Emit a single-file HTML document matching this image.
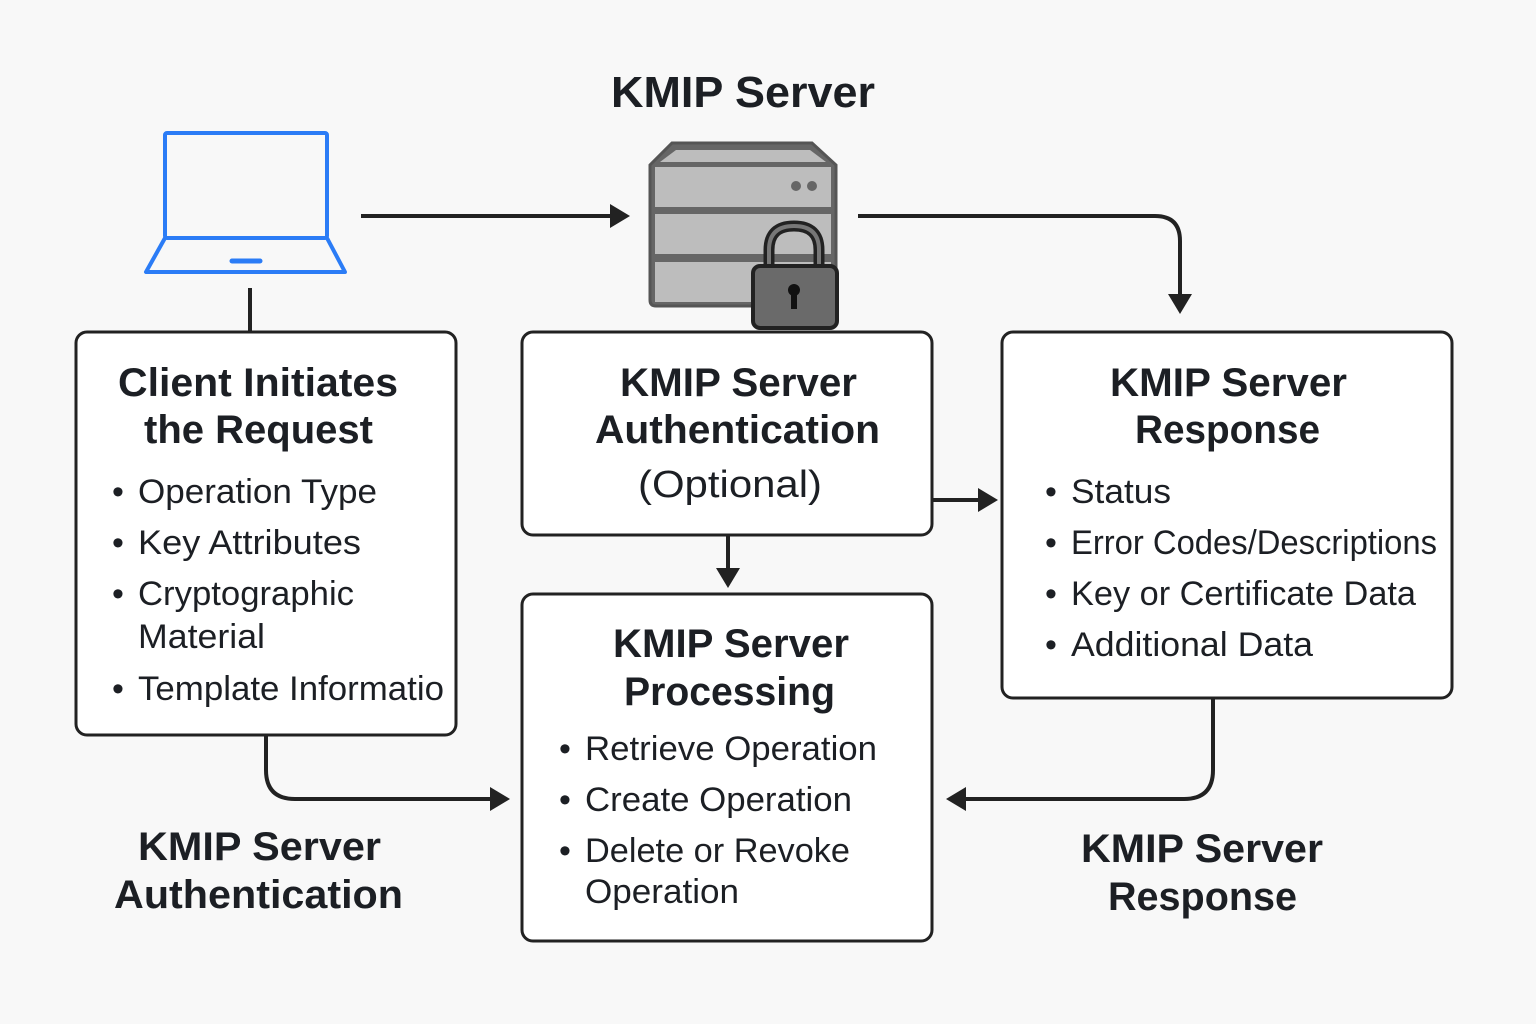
<!DOCTYPE html>
<html><head><meta charset="utf-8"><style>
html,body{margin:0;padding:0;background:#f8f8f8}
svg{display:block}
text{font-family:"Liberation Sans",sans-serif;fill:#1c1f24}
.t{font-weight:bold;font-size:40px}
.b{font-size:34px}
</style></head><body>
<svg width="1536" height="1024" viewBox="0 0 1536 1024" xmlns="http://www.w3.org/2000/svg">
<rect width="1536" height="1024" fill="#f8f8f8"/>
<defs><marker id="a" markerWidth="5" markerHeight="6" refX="0" refY="3" orient="auto" markerUnits="strokeWidth"><path d="M0,0 L5,3 L0,6z" fill="#222"/></marker></defs>
<g stroke="#222" stroke-width="4" fill="none">
<line x1="361" y1="216" x2="610" y2="216" marker-end="url(#a)"/>
<path d="M858,216 H1155 Q1180,216 1180,241 V294" marker-end="url(#a)"/>
<line x1="250" y1="288" x2="250" y2="332"/>
<line x1="932" y1="500" x2="978" y2="500" marker-end="url(#a)"/>
<line x1="728" y1="535" x2="728" y2="568" marker-end="url(#a)"/>
<path d="M266,735 V770 Q266,799 295,799 H490" marker-end="url(#a)"/>
<path d="M1213,698 V770 Q1213,799 1184,799 H966" marker-end="url(#a)"/>
</g>
<!-- laptop -->
<g stroke="#2b7cf6" stroke-width="4" fill="none" stroke-linejoin="round">
<rect x="165" y="133" width="162" height="105" rx="2"/>
<path d="M165,238 L146,272 H345 L327,238"/>
<line x1="232" y1="261" x2="260" y2="261" stroke-width="5" stroke-linecap="round"/>
</g>
<!-- server -->
<g stroke="#555" stroke-width="3">
<path d="M672,143 H812 L836,165 V300 Q836,306 830,306 H656 Q650,306 650,300 V165 Z" fill="#666"/>
<rect x="655" y="167" width="176" height="40" fill="#bdbdbd" stroke="none"/>
<rect x="655" y="214" width="176" height="40" fill="#bdbdbd" stroke="none"/>
<rect x="655" y="262" width="176" height="40" fill="#bdbdbd" stroke="none"/>
<path d="M676,150 H810 L826,162 H660 Z" fill="#bdbdbd" stroke="none"/>
</g>
<circle cx="796" cy="186" r="5" fill="#666"/><circle cx="812" cy="186" r="5" fill="#666"/>
<path d="M769,268 V250 Q769,226 794,226 Q819,226 819,250 V268" fill="none" stroke="#222" stroke-width="11"/>
<path d="M769,268 V250 Q769,226 794,226 Q819,226 819,250 V268" fill="none" stroke="#777" stroke-width="4"/>
<rect x="753" y="266" width="84" height="62" rx="7" fill="#6a6a6a" stroke="#222" stroke-width="4"/>
<circle cx="794" cy="290" r="6" fill="#111"/><rect x="791" y="290" width="6" height="19" fill="#111"/>
<!-- boxes -->
<g fill="#fff" stroke="#222" stroke-width="3">
<rect x="76" y="332" width="380" height="403" rx="11"/>
<rect x="522" y="332" width="410" height="203" rx="11"/>
<rect x="1002" y="332" width="450" height="366" rx="11"/>
<rect x="522" y="594" width="410" height="347" rx="11"/>
</g>
<text class="t" x="611" y="107" textLength="264" lengthAdjust="spacingAndGlyphs" style="font-size:44px">KMIP Server</text>
<text class="t" x="118" y="396" textLength="280" lengthAdjust="spacingAndGlyphs">Client Initiates</text>
<text class="t" x="144" y="443" textLength="229" lengthAdjust="spacingAndGlyphs">the Request</text>
<text class="b" x="112" y="503">•</text><text class="b" x="138" y="503" textLength="239" lengthAdjust="spacingAndGlyphs">Operation Type</text>
<text class="b" x="112" y="554">•</text><text class="b" x="138" y="554" textLength="223" lengthAdjust="spacingAndGlyphs">Key Attributes</text>
<text class="b" x="112" y="605">•</text><text class="b" x="138" y="605" textLength="216" lengthAdjust="spacingAndGlyphs">Cryptographic</text>
<text class="b" x="138" y="648" textLength="127" lengthAdjust="spacingAndGlyphs">Material</text>
<text class="b" x="112" y="700">•</text><text class="b" x="138" y="700" textLength="306" lengthAdjust="spacingAndGlyphs">Template Informatio</text>
<text class="t" x="620" y="396" textLength="237" lengthAdjust="spacingAndGlyphs">KMIP Server</text>
<text class="t" x="595" y="443" textLength="285" lengthAdjust="spacingAndGlyphs">Authentication</text>
<text class="b" x="638" y="497" textLength="184" lengthAdjust="spacingAndGlyphs" style="font-size:38px">(Optional)</text>
<text class="t" x="1110" y="396" textLength="237" lengthAdjust="spacingAndGlyphs">KMIP Server</text>
<text class="t" x="1135" y="443" textLength="185" lengthAdjust="spacingAndGlyphs">Response</text>
<text class="b" x="1045" y="503">•</text><text class="b" x="1071" y="503" textLength="100" lengthAdjust="spacingAndGlyphs">Status</text>
<text class="b" x="1045" y="554">•</text><text class="b" x="1071" y="554" textLength="366" lengthAdjust="spacingAndGlyphs">Error Codes/Descriptions</text>
<text class="b" x="1045" y="605">•</text><text class="b" x="1071" y="605" textLength="345" lengthAdjust="spacingAndGlyphs">Key or Certificate Data</text>
<text class="b" x="1045" y="656">•</text><text class="b" x="1071" y="656" textLength="242" lengthAdjust="spacingAndGlyphs">Additional Data</text>
<text class="t" x="613" y="657" textLength="236" lengthAdjust="spacingAndGlyphs">KMIP Server</text>
<text class="t" x="624" y="705" textLength="211" lengthAdjust="spacingAndGlyphs">Processing</text>
<text class="b" x="559" y="760">•</text><text class="b" x="585" y="760" textLength="292" lengthAdjust="spacingAndGlyphs">Retrieve Operation</text>
<text class="b" x="559" y="811">•</text><text class="b" x="585" y="811" textLength="267" lengthAdjust="spacingAndGlyphs">Create Operation</text>
<text class="b" x="559" y="862">•</text><text class="b" x="585" y="862" textLength="265" lengthAdjust="spacingAndGlyphs">Delete or Revoke</text>
<text class="b" x="585" y="903" textLength="154" lengthAdjust="spacingAndGlyphs">Operation</text>
<text class="t" x="138" y="860" textLength="243" lengthAdjust="spacingAndGlyphs">KMIP Server</text>
<text class="t" x="114" y="908" textLength="289" lengthAdjust="spacingAndGlyphs">Authentication</text>
<text class="t" x="1081" y="862" textLength="242" lengthAdjust="spacingAndGlyphs">KMIP Server</text>
<text class="t" x="1108" y="910" textLength="189" lengthAdjust="spacingAndGlyphs">Response</text>
</svg>
</body></html>
